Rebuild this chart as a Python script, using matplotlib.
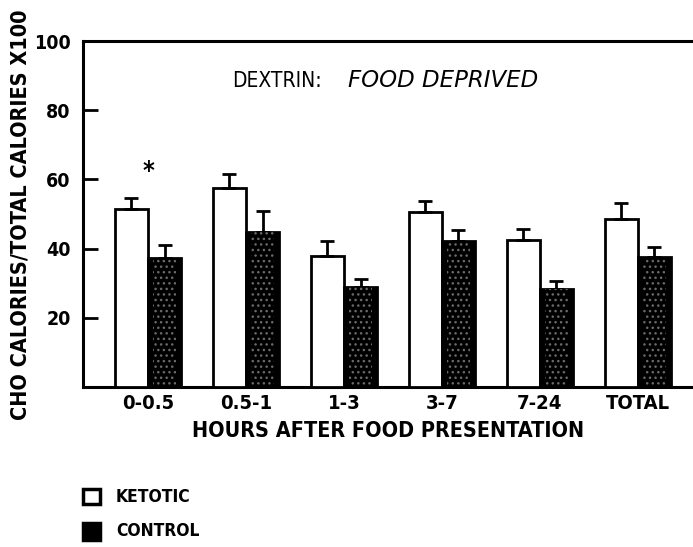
import matplotlib
matplotlib.use("Agg")
import matplotlib.pyplot as plt
import numpy as np
from matplotlib.patches import Rectangle

categories = ["0-0.5", "0.5-1", "1-3", "3-7", "7-24", "TOTAL"]
ketotic = [51.4, 57.5, 37.9, 50.6, 42.5, 48.6]
ketotic_err = [3.2, 4.0, 4.3, 3.2, 3.2, 4.6]
control = [37.3, 44.8, 28.9, 42.2, 28.3, 37.6]
control_err = [3.7, 6.1, 2.3, 3.2, 2.3, 2.9]
yticks = [20, 40, 60, 80, 100]

plt.rcParams['font.family'] = ["DejaVu Sans"]
plt.rcParams['font.stretch'] = 'condensed'
plt.rcParams['font.weight'] = 'bold'

fig = plt.figure(figsize=(6.93, 5.47), dpi=100)
ax = fig.add_axes([0.1198, 0.2925, 0.880, 0.6325])

x = np.arange(len(categories))
w = 0.337
ax.bar(x - w/2, ketotic, w, color="white", edgecolor="black", linewidth=2,
       yerr=[np.zeros(len(x)), ketotic_err], capsize=5,
       error_kw=dict(ecolor="black", elinewidth=2, capthick=2), zorder=3)
ax.bar(x + w/2, control, w, color="black", edgecolor="black", linewidth=2,
       yerr=[np.zeros(len(x)), control_err], capsize=5,
       error_kw=dict(ecolor="black", elinewidth=2, capthick=2), zorder=3)
ax.bar(x + w/2, control, w * 0.7, fill=False, hatch="...", edgecolor="#6a6a6a",
       linewidth=0, zorder=4)

ax.set_xlim(-0.663, 5.56)
ax.set_ylim(0, 100)
ax.set_yticks(yticks)
ax.set_yticklabels([str(t) for t in yticks], fontsize=14, fontweight='bold')
ax.set_xticks(x)
ax.set_xticklabels(categories, fontsize=14.5, fontweight='bold')
ax.tick_params(axis='y', direction='in', length=11, width=2, pad=9)
ax.tick_params(axis='x', length=0, pad=5)
for s in ["left", "bottom", "top"]:
    ax.spines[s].set_linewidth(2.2)
ax.spines["right"].set_visible(False)

ax.set_xlabel("HOURS AFTER FOOD PRESENTATION", fontsize=15.5, fontweight='bold', labelpad=6)
fig.text(0.03, 0.607, "CHO CALORIES/TOTAL CALORIES X100", rotation=90,
         fontsize=15.5, fontweight='bold', ha='center', va='center')

ax.text(0.244, 0.884, "DEXTRIN:", transform=ax.transAxes, fontsize=15,
        fontweight='normal', ha='left', va='center')
ax.text(0.434, 0.887, "FOOD DEPRIVED", transform=ax.transAxes, fontsize=16.5,
        fontweight='normal', style='italic', fontstretch='normal', ha='left', va='center')
ax.text(0, 62.5, "*", fontsize=18, ha='center', va='center', fontweight='bold')

# legend
fig.patches.append(Rectangle((83/693, 1-504/547), 17/693, 15/547, transform=fig.transFigure,
                             facecolor='white', edgecolor='black', linewidth=2.5))
fig.patches.append(Rectangle((83/693, 1-540/547), 17/693, 17/547, transform=fig.transFigure,
                             facecolor='black', edgecolor='black', linewidth=2.5))
fig.text(116/693, 1-497/547, "KETOTIC", fontsize=12.5, fontweight='bold', va='center')
fig.text(116/693, 1-531/547, "CONTROL", fontsize=12.5, fontweight='bold', va='center')

fig.savefig("out.png", dpi=100)
